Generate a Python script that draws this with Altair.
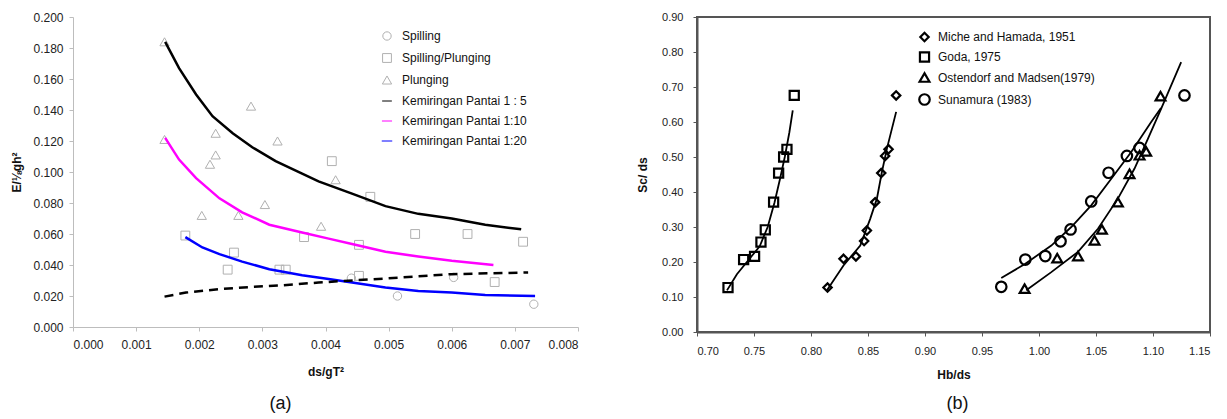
import altair as alt
import pandas as pd

FONT = "Liberation Sans"

# ---------------- Panel (a) data ----------------
a_x_ticks = [0.000, 0.001, 0.002, 0.003, 0.004, 0.005, 0.006, 0.007, 0.008]
a_y_ticks = [0.000, 0.020, 0.040, 0.060, 0.080, 0.100, 0.120, 0.140, 0.160, 0.180, 0.200]

spilling_x = [0.00441, 0.00514, 0.00603, 0.00730]
spilling_y = [0.0315, 0.0200, 0.0320, 0.0147]

spill_plung_x = [0.00178, 0.00255, 0.00245, 0.00327, 0.00337, 0.00366, 0.00410,
                 0.00471, 0.00453, 0.00453, 0.00542, 0.00625, 0.00713, 0.00668]
spill_plung_y = [0.059, 0.048, 0.037, 0.037, 0.037, 0.058, 0.107,
                 0.084, 0.053, 0.033, 0.060, 0.060, 0.055, 0.029]

plunging_x = [0.00145, 0.00145, 0.00282, 0.00226, 0.00226, 0.00217,
              0.00324, 0.00304, 0.00204, 0.00262, 0.00393, 0.00416]
plunging_y = [0.184, 0.121, 0.1425, 0.125, 0.111, 0.105,
              0.120, 0.079, 0.072, 0.072, 0.065, 0.095]

slope5_x = [0.00146, 0.00168, 0.00195, 0.00221, 0.00253, 0.00284, 0.00321, 0.00363,
            0.00389, 0.00442, 0.00495, 0.00547, 0.00600, 0.00653, 0.00710]
slope5_y = [0.184, 0.167, 0.150, 0.136, 0.125, 0.116, 0.107, 0.099,
            0.094, 0.086, 0.078, 0.073, 0.070, 0.066, 0.063]

slope10_x = [0.00146, 0.00168, 0.00195, 0.00232, 0.00268, 0.00311, 0.00363,
             0.00405, 0.00442, 0.00495, 0.00547, 0.00600, 0.00666]
slope10_y = [0.122, 0.108, 0.096, 0.083, 0.074, 0.066, 0.061,
             0.057, 0.0535, 0.0485, 0.0455, 0.0427, 0.040]

slope20_x = [0.00178, 0.00205, 0.00232, 0.00268, 0.00311, 0.00363, 0.00405,
             0.00442, 0.00495, 0.00547, 0.00600, 0.00653, 0.00732]
slope20_y = [0.058, 0.0513, 0.047, 0.0422, 0.0373, 0.0334, 0.031,
             0.0287, 0.0255, 0.0233, 0.0222, 0.0207, 0.0200]

dashed_x = [0.00145, 0.00179, 0.00232, 0.00284, 0.00332, 0.00389, 0.00495, 0.00600, 0.00721]
dashed_y = [0.0196, 0.0222, 0.0244, 0.0259, 0.0269, 0.0287, 0.0313, 0.0341, 0.0352]

a_categories = ["Spilling", "Spilling/Plunging", "Plunging",
                "Kemiringan Pantai 1 : 5", "Kemiringan Pantai 1:10", "Kemiringan Pantai 1:20"]
a_colors = ["#b0b0b0", "#b0b0b0", "#b0b0b0", "#000000", "#ff00ff", "#0000ff"]
a_shapes = ["circle", "square", "triangle-up", "stroke", "stroke", "stroke"]
a_sizes = [70, 110, 70, 500, 500, 500]
a_widths = [1, 1, 1, 2.5, 2.5, 2.5]

# ---------------- Panel (b) data ----------------
b_x_ticks = [0.70, 0.75, 0.80, 0.85, 0.90, 0.95, 1.00, 1.05, 1.10, 1.15]
b_y_ticks = [0.00, 0.10, 0.20, 0.30, 0.40, 0.50, 0.60, 0.70, 0.80, 0.90]

miche_x = [0.8145, 0.8285, 0.8394, 0.8466, 0.8490, 0.8563, 0.8616, 0.8650, 0.8680, 0.8747]
miche_y = [0.127, 0.209, 0.216, 0.260, 0.290, 0.371, 0.454, 0.503, 0.522, 0.676]
goda_x = [0.7272, 0.7409, 0.7505, 0.7561, 0.7599, 0.7672, 0.7716, 0.7760, 0.7789, 0.7853]
goda_y = [0.127, 0.207, 0.216, 0.257, 0.292, 0.371, 0.454, 0.500, 0.522, 0.676]
osten_x = [0.9874, 1.0160, 1.0342, 1.0487, 1.0552, 1.0692, 1.0794, 1.0882, 1.0940, 1.1066]
osten_y = [0.124, 0.211, 0.217, 0.262, 0.293, 0.371, 0.452, 0.505, 0.516, 0.674]
suna_x = [0.9669, 0.9880, 1.0055, 1.0189, 1.0277, 1.0458, 1.0610, 1.0771, 1.0882, 1.1276]
suna_y = [0.129, 0.207, 0.217, 0.259, 0.293, 0.373, 0.455, 0.503, 0.526, 0.676]

goda_fit_x = [0.7263, 0.7350, 0.7450, 0.7550, 0.7620, 0.7680, 0.7730, 0.7770, 0.7810, 0.7840]
goda_fit_y = [0.119, 0.165, 0.205, 0.245, 0.300, 0.370, 0.440, 0.500, 0.570, 0.633]
miche_fit_x = [0.8140, 0.8285, 0.8432, 0.8520, 0.8578, 0.8622, 0.8666, 0.8710, 0.8747]
miche_fit_y = [0.119, 0.190, 0.247, 0.324, 0.381, 0.457, 0.524, 0.581, 0.629]
suna_fit_x = [0.9669, 0.9880, 1.0108, 1.0283, 1.0458, 1.0634, 1.0809, 1.0984, 1.1070]
suna_fit_y = [0.154, 0.195, 0.247, 0.300, 0.362, 0.438, 0.514, 0.600, 0.640]
osten_fit_x = [0.9888, 1.0108, 1.0342, 1.0517, 1.0692, 1.0838, 1.0955, 1.1072, 1.1247]
osten_fit_y = [0.119, 0.171, 0.229, 0.295, 0.381, 0.467, 0.552, 0.638, 0.771]

b_categories = ["Miche and Hamada, 1951", "Goda, 1975",
                "Ostendorf and Madsen(1979)", "Sunamura (1983)"]
b_shapes = ["diamond", "square", "triangle-up", "circle"]
b_sizes = [70, 110, 85, 90]


def frame(xs, ys, name):
    return pd.DataFrame({"x": xs, "y": ys, "type": [name] * len(xs)})


pts_a = pd.concat([
    frame(spilling_x, spilling_y, a_categories[0]),
    frame(spill_plung_x, spill_plung_y, a_categories[1]),
    frame(plunging_x, plunging_y, a_categories[2]),
], ignore_index=True)
lines_a = pd.concat([
    frame(slope5_x, slope5_y, a_categories[3]),
    frame(slope10_x, slope10_y, a_categories[4]),
    frame(slope20_x, slope20_y, a_categories[5]),
], ignore_index=True)
dash_a = pd.DataFrame({"x": dashed_x, "y": dashed_y})

pts_b = pd.concat([
    frame(miche_x, miche_y, b_categories[0]),
    frame(goda_x, goda_y, b_categories[1]),
    frame(osten_x, osten_y, b_categories[2]),
    frame(suna_x, suna_y, b_categories[3]),
], ignore_index=True)
fits_b = pd.concat([
    frame(miche_fit_x, miche_fit_y, b_categories[0]),
    frame(goda_fit_x, goda_fit_y, b_categories[1]),
    frame(osten_fit_x, osten_fit_y, b_categories[2]),
    frame(suna_fit_x, suna_fit_y, b_categories[3]),
], ignore_index=True)

# ---------------- Panel (a) chart ----------------
is_line = "indexof(datum.value, 'Kemiringan') >= 0"
leg_a = alt.Legend(title=None, orient="none", legendX=308, legendY=13,
                   labelFont=FONT, labelFontSize=12, labelColor="#111",
                   labelOffset=9, rowPadding=8, padding=0, symbolLimit=0,
                   symbolStrokeWidth=alt.ExprRef(expr=f"{is_line} ? 2.5 : 1"),
                   symbolSize=alt.ExprRef(expr=f"{is_line} ? 500 : 75"))

xa = alt.X("x:Q", scale=alt.Scale(domain=[0, 0.008], nice=False, zero=False),
           axis=alt.Axis(values=a_x_ticks, format=".3f", title="ds/gT²", grid=False,
                         domainColor="#bdbdbd", tickColor="#bdbdbd", tickSize=4,
                         labelPadding=8, labelFont=FONT, labelFontSize=12, labelColor="#222",
                         titleFont=FONT, titleFontSize=12, titleFontWeight="bold",
                         titleColor="#111", titleY=44, titleBaseline="middle"))
ya = alt.Y("y:Q", scale=alt.Scale(domain=[0, 0.2], nice=False, zero=False),
           axis=alt.Axis(values=a_y_ticks, format=".3f", title="E/⅛gh²", grid=False,
                         domainColor="#bdbdbd", tickColor="#bdbdbd", tickSize=4,
                         labelPadding=6, labelFont=FONT, labelFontSize=12, labelColor="#222",
                         titleFont=FONT, titleFontSize=12, titleFontWeight="bold",
                         titleColor="#111", titleX=-57, titleBaseline="middle"))

color_a = alt.Color("type:N", scale=alt.Scale(domain=a_categories, range=a_colors), legend=leg_a)
shape_a = alt.Shape("type:N", scale=alt.Scale(domain=a_categories, range=a_shapes), legend=leg_a)
size_a = alt.Size("type:N", scale=alt.Scale(domain=a_categories, range=a_sizes), legend=leg_a)
width_a = alt.StrokeWidth("type:N", scale=alt.Scale(domain=a_categories, range=a_widths), legend=leg_a)

points_a = alt.Chart(pts_a).mark_point(filled=False, opacity=1).encode(
    x=xa, y=ya, color=color_a, shape=shape_a, size=size_a, strokeWidth=width_a)
curves_a = alt.Chart(lines_a).mark_line(strokeWidth=2.5).encode(
    x=xa, y=ya, color=color_a)
dashed_a = alt.Chart(dash_a).mark_line(strokeWidth=2.5, color="black", strokeDash=[9, 6]).encode(
    x=xa, y=ya)

panel_a = alt.layer(points_a, curves_a, dashed_a).properties(
    width=505, height=310,
    title=alt.TitleParams("(a)", orient="bottom", fontSize=18, fontWeight="normal",
                          font=FONT, color="#111", offset=18, dx=-45),
)

# ---------------- Panel (b) chart ----------------
leg_b = alt.Legend(title=None, orient="none", legendX=221, legendY=14,
                   labelFont=FONT, labelFontSize=12, labelColor="#111",
                   labelOffset=7, rowPadding=2, padding=0,
                   symbolStrokeColor="black", symbolStrokeWidth=2.2,
                   symbolFillColor="transparent")

xb = alt.X("x:Q", scale=alt.Scale(domain=[0.70, 1.15], nice=False, zero=False),
           axis=alt.Axis(values=b_x_ticks, format=".2f", title="Hb/ds", grid=False,
                         domainColor="#555", domainWidth=2, tickColor="#555", tickSize=4,
                         labelPadding=9, labelFont=FONT, labelFontSize=11, labelColor="#222",
                         titleFont=FONT, titleFontSize=12, titleFontWeight="bold",
                         titleColor="#111", titleY=42, titleBaseline="middle"))
yb = alt.Y("y:Q", scale=alt.Scale(domain=[0, 0.9], nice=False, zero=False),
           axis=alt.Axis(values=b_y_ticks, format=".2f", title="Sc/ ds", grid=False,
                         domainColor="#555", domainWidth=2, tickColor="#555", tickSize=4,
                         labelPadding=10, labelFont=FONT, labelFontSize=11, labelColor="#222",
                         titleFont=FONT, titleFontSize=12, titleFontWeight="bold",
                         titleColor="#111", titleX=-55, titleBaseline="middle"))

points_b = alt.Chart(pts_b).mark_point(filled=False, color="black", strokeWidth=2.2, opacity=1).encode(
    x=xb, y=yb,
    shape=alt.Shape("type:N", scale=alt.Scale(domain=b_categories, range=b_shapes), legend=leg_b),
    size=alt.Size("type:N", scale=alt.Scale(domain=b_categories, range=b_sizes), legend=leg_b),
)
curves_b = alt.Chart(fits_b).mark_line(color="black", strokeWidth=1.8).encode(
    x=xb, y=yb, detail="type:N")

panel_b = alt.layer(curves_b, points_b).properties(
    width=513, height=315,
    view=alt.ViewBackground(stroke="#555", strokeWidth=2),
    title=alt.TitleParams("(b)", orient="bottom", fontSize=18, fontWeight="normal",
                          font=FONT, color="#111", offset=15, dx=4),
)

chart = alt.hconcat(panel_a, panel_b, spacing=119, bounds="flush").resolve_scale(
    color="independent", shape="independent", size="independent",
    strokeWidth="independent",
).resolve_legend(
    color="independent", shape="independent", size="independent",
    strokeWidth="independent",
).properties(
    padding={"left": 2, "top": 2, "right": 0, "bottom": 0},
    background="white",
).configure_view(strokeWidth=0)

chart.save("out.html", embed_options={"renderer": "svg", "actions": False})
